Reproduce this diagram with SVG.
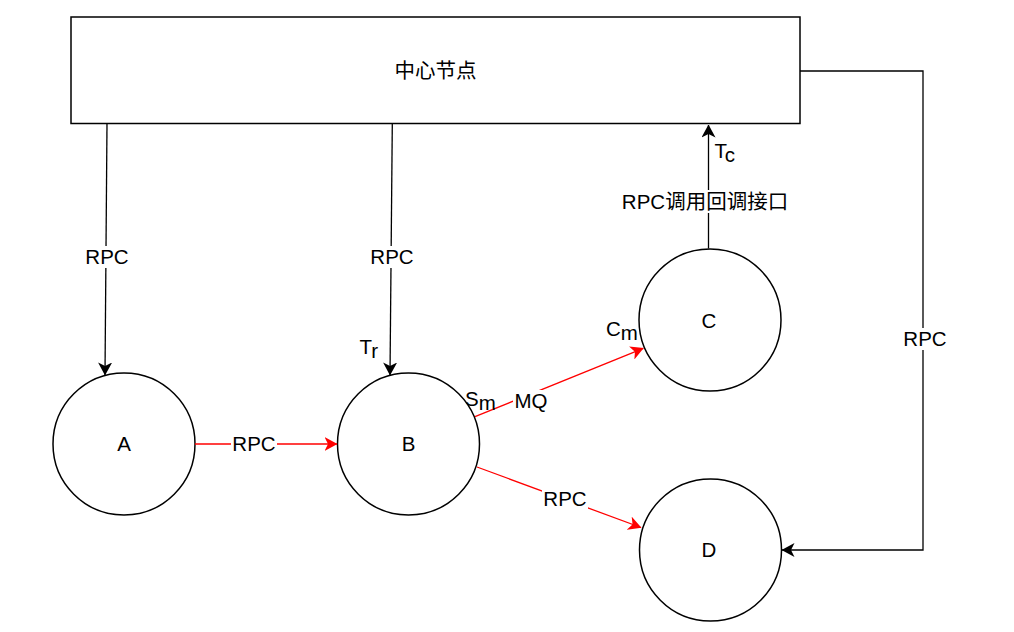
<svg xmlns="http://www.w3.org/2000/svg" width="1014" height="632" viewBox="0 0 1014 632">
<defs>
<style>
.shape{fill:#fff;stroke:#000;stroke-width:1.5}
.t{font-family:"Liberation Sans","Noto Sans CJK SC",Arial,sans-serif;font-size:20.5px;fill:#000}
.c{text-anchor:middle}
.lk{fill:none;stroke:#000;stroke-width:1.3}
.lr{fill:none;stroke:#ff0000;stroke-width:1.3}
.bg{fill:#fff;stroke:none}
</style>
<marker id="ak" markerUnits="userSpaceOnUse" viewBox="0 0 13 14" markerWidth="13" markerHeight="14" refX="12.5" refY="7" orient="auto">
<path d="M0,0 L13,7 L0,14 L3.5,7 z" fill="#000"/>
</marker>
<marker id="ar" markerUnits="userSpaceOnUse" viewBox="0 0 13 14" markerWidth="13" markerHeight="14" refX="12.5" refY="7" orient="auto">
<path d="M0,0 L13,7 L0,14 L3.5,7 z" fill="#ff0000"/>
</marker>
</defs>
<rect width="1014" height="632" fill="#fff"/>

<g id="center-node">
<rect class="shape" x="71" y="17" width="729" height="106.5"/>
<text class="t c" x="435.5" y="78">中心节点</text>
</g>
<g id="node-A">
<circle class="shape" cx="124" cy="444" r="71"/>
<text class="t c" x="124" y="451">A</text>
</g>
<g id="node-B">
<circle class="shape" cx="408.5" cy="444" r="71"/>
<text class="t c" x="408.5" y="451">B</text>
</g>
<g id="node-C">
<circle class="shape" cx="710" cy="320" r="71"/>
<text class="t c" x="709" y="328">C</text>
</g>
<g id="node-D">
<circle class="shape" cx="710.5" cy="550" r="71"/>
<text class="t c" x="709" y="557">D</text>
</g>

<g id="connectors">
<path class="lk" d="M107,123.5 L105,375" marker-end="url(#ak)"/>
<path class="lk" d="M392.3,123.5 L390,375" marker-end="url(#ak)"/>
<path class="lk" d="M708.5,248.5 L708.5,125" marker-end="url(#ak)"/>
<path class="lk" d="M800,71 L923,71 L923,550 L782,550" marker-end="url(#ak)"/>
<path class="lr" d="M195,444 L337,444" marker-end="url(#ar)"/>
<path class="lr" d="M475,416.7 L643.3,348.3" marker-end="url(#ar)"/>
<path class="lr" d="M477,467 L641,527.5" marker-end="url(#ar)"/>

<rect class="bg" x="84" y="246" width="46" height="22"/>
<text class="t c" x="107" y="263.5">RPC</text>
<rect class="bg" x="369" y="246" width="46" height="22"/>
<text class="t c" x="392" y="263.5">RPC</text>
<rect class="bg" x="618" y="190" width="174" height="23"/>
<text class="t c" x="705" y="209">RPC调用回调接口</text>
<rect class="bg" x="902" y="328" width="46" height="22"/>
<text class="t c" x="925" y="346">RPC</text>
<rect class="bg" x="231" y="433" width="46" height="22"/>
<text class="t c" x="254" y="451">RPC</text>
<rect class="bg" x="542" y="487" width="46" height="22"/>
<text class="t c" x="565" y="505.5">RPC</text>
<rect class="bg" x="513" y="390" width="37" height="22"/>
<text class="t c" x="531" y="408">MQ</text>

<text class="t" x="359.5" y="354">T<tspan dy="4">r</tspan></text>
<text class="t" x="714.5" y="158">T<tspan dy="4">c</tspan></text>
<text class="t" x="465" y="406">S<tspan dy="4">m</tspan></text>
<text class="t" x="606" y="336">C<tspan dy="4">m</tspan></text>
</g>
</svg>
